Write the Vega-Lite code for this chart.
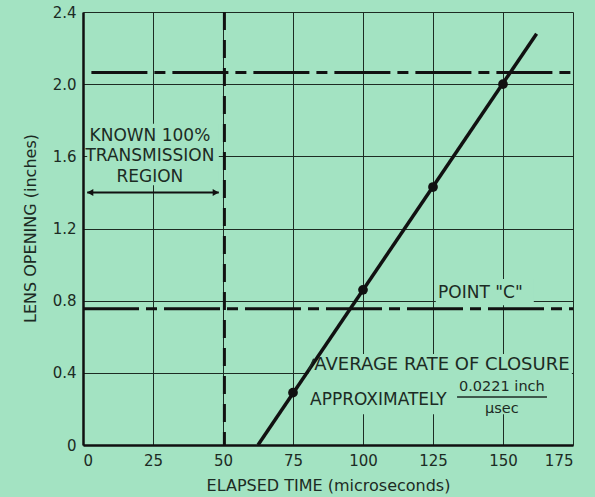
{
  "$schema": "https://vega.github.io/schema/vega-lite/v6.json",
  "width": 490,
  "height": 433,
  "autosize": {"type": "none"},
  "padding": {"left": 83, "top": 12, "right": 22, "bottom": 52},
  "background": "#a3e3c2",
  "config": {
    "view": {"stroke": null},
    "font": "DejaVu Sans",
    "axis": {
      "grid": true,
      "gridColor": "#1d2b23",
      "gridWidth": 1,
      "domainColor": "#111111",
      "domainWidth": 2.5,
      "ticks": false,
      "labelFontSize": 15,
      "labelColor": "#1c2b24",
      "labelFont": "DejaVu Sans",
      "titleFont": "DejaVu Sans",
      "titleFontSize": 16,
      "titleFontWeight": "normal",
      "titleColor": "#1c2b24"
    }
  },
  "encoding": {
    "x": {
      "field": "t",
      "type": "quantitative",
      "scale": {"domain": [0, 175], "nice": false, "zero": false},
      "axis": {
        "values": [0, 25, 50, 75, 100, 125, 150, 175],
        "labelPadding": 8,
        "title": "ELAPSED TIME (microseconds)",
        "titleX": 245,
        "titleY": 40,
        "titleBaseline": "middle"
      }
    },
    "y": {
      "field": "o",
      "type": "quantitative",
      "scale": {"domain": [0, 2.4], "nice": false, "zero": false},
      "axis": {
        "values": [0, 0.4, 0.8, 1.2, 1.6, 2.0, 2.4],
        "labelExpr": "datum.value == 0 ? '0' : format(datum.value, '.1f')",
        "labelPadding": 7,
        "title": "LENS OPENING (inches)",
        "titleX": -53,
        "titleY": 216,
        "titleBaseline": "middle",
        "titleAlign": "center"
      }
    }
  },
  "layer": [
    {
      "data": {"values": [
        {"t": 1.5, "t2": 48.5, "o": 1.44, "o2": 1.78},
        {"t": 80.5, "t2": 174.6, "o": 0.17, "o2": 0.505},
        {"t": 126, "t2": 161, "o": 0.775, "o2": 0.92}
      ]},
      "mark": {"type": "rect", "fill": "#a3e3c2"},
      "encoding": {"x2": {"field": "t2"}, "y2": {"field": "o2"}}
    },
    {
      "data": {"values": [
        {"t": 3, "t2": 175, "o": 2.065},
        {"t": 0, "t2": 175, "o": 0.755}
      ]},
      "mark": {"type": "rule", "color": "#111111", "strokeWidth": 3, "strokeDash": [56, 7, 11, 7]},
      "encoding": {"x2": {"field": "t2"}}
    },
    {
      "data": {"values": [{"t": 50.5, "o": 2.4, "o2": 0}]},
      "mark": {"type": "rule", "color": "#111111", "strokeWidth": 3, "strokeDash": [18, 10]},
      "encoding": {"y2": {"field": "o2"}}
    },
    {
      "data": {"values": [{"t": 1.5, "t2": 48.5, "o": 1.4}]},
      "mark": {"type": "rule", "color": "#111111", "strokeWidth": 2},
      "encoding": {"x2": {"field": "t2"}}
    },
    {
      "data": {"values": [
        {"t": 2.6, "o": 1.4, "end": "left"},
        {"t": 47.4, "o": 1.4, "end": "right"}
      ]},
      "mark": {"type": "point", "filled": true, "color": "#111111", "size": 50, "opacity": 1},
      "encoding": {
        "shape": {"field": "end", "type": "nominal", "scale": {"domain": ["left", "right"], "range": ["triangle-left", "triangle-right"]}, "legend": null}
      }
    },
    {
      "data": {"values": [{"t": 62.5, "o": 0}, {"t": 162, "o": 2.28}]},
      "mark": {"type": "line", "color": "#111111", "strokeWidth": 3.5}
    },
    {
      "data": {"values": [{"t": 80.6, "o": 0.415, "t2": 82.4, "o2": 0.478}]},
      "mark": {"type": "rule", "color": "#1c2b24", "strokeWidth": 1.5},
      "encoding": {"x2": {"field": "t2"}, "y2": {"field": "o2"}}
    },
    {
      "data": {"values": [
        {"t": 75, "o": 0.29},
        {"t": 100, "o": 0.86},
        {"t": 125, "o": 1.43},
        {"t": 150, "o": 2.0}
      ]},
      "mark": {"type": "circle", "color": "#111111", "size": 95, "opacity": 1}
    },
    {
      "data": {"values": [{"t": 133.6, "t2": 165.7, "o": 0.266}]},
      "mark": {"type": "rule", "color": "#1c2b24", "strokeWidth": 1.5},
      "encoding": {"x2": {"field": "t2"}}
    },
    {
      "data": {"values": [
        {"t": 23.9, "o": 1.713, "label": "KNOWN 100%"},
        {"t": 23.9, "o": 1.602, "label": "TRANSMISSION"},
        {"t": 23.9, "o": 1.486, "label": "REGION"}
      ]},
      "mark": {"type": "text", "align": "center", "baseline": "middle", "fontSize": 17, "color": "#1c2b24"},
      "encoding": {"text": {"field": "label"}}
    },
    {
      "data": {"values": [
        {"t": 82.6, "o": 0.443, "label": "AVERAGE RATE OF CLOSURE"}
      ]},
      "mark": {"type": "text", "align": "left", "baseline": "middle", "fontSize": 18, "color": "#1c2b24"},
      "encoding": {"text": {"field": "label"}}
    },
    {
      "data": {"values": [
        {"t": 81.1, "o": 0.249, "label": "APPROXIMATELY"},
        {"t": 126.8, "o": 0.843, "label": "POINT \"C\""}
      ]},
      "mark": {"type": "text", "align": "left", "baseline": "middle", "fontSize": 17, "color": "#1c2b24"},
      "encoding": {"text": {"field": "label"}}
    },
    {
      "data": {"values": [
        {"t": 149.6, "o": 0.321, "label": "0.0221 inch"},
        {"t": 149.6, "o": 0.2, "label": "µsec"}
      ]},
      "mark": {"type": "text", "align": "center", "baseline": "middle", "fontSize": 14.5, "color": "#1c2b24"},
      "encoding": {"text": {"field": "label"}}
    }
  ]
}
